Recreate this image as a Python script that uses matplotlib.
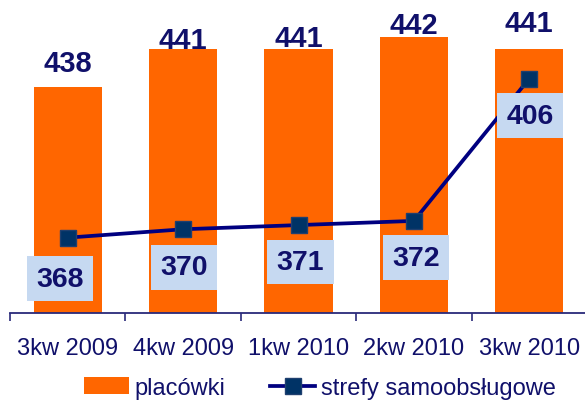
import matplotlib.pyplot as plt
import numpy as np

plt.rcParams['font.family'] = ['Liberation Sans', 'DejaVu Sans']

kwartaly = ['3kw 2009', '4kw 2009', '1kw 2010', '2kw 2010', '3kw 2010']
placowki = [438, 441, 441, 442, 441]
strefy = [368, 370, 371, 372, 406]

granat = '#10106A'
pomarancz = '#FF6600'

fig = plt.figure(figsize=(5.85, 4.02), dpi=100)
ax = fig.add_axes([10 / 585, 88 / 402, 577 / 585, 314 / 402])
ax2 = ax.twinx()

x = np.arange(len(kwartaly))
slupki = ax.bar(x, placowki, width=0.59, color=pomarancz, label='placówki', zorder=2)
linia, = ax2.plot(x, strefy, color='#000080', lw=2.7, marker='s', ms=11,
                  mfc='#003366', mec='#1F3F6F', label='strefy samoobsługowe', zorder=3)

ax.set_xlim(-0.5, 4.5)
ax.set_ylim(420, 445)
ax2.set_ylim(350, 425)

# etykiety nad slupkami (przesuniecia w pikselach jak na oryginale)
dy_slupki = [24, 9, 11, 12, 26]
for xi, v, dy in zip(x, placowki, dy_slupki):
    ax.annotate(str(v), (xi, v), xytext=(0, dy * 0.72), textcoords='offset points',
                ha='center', va='center', fontsize=21, fontweight='bold',
                color=granat, zorder=5)

# etykiety linii w niebieskich ramkach
dx_linia = [-8, 1, 2, 2, 1]
dy_linia = [41, 38, 37, 37, 37]
for xi, v, dx, dy in zip(x, strefy, dx_linia, dy_linia):
    ax2.annotate(str(v), (xi, v), xytext=(dx * 0.72, -dy * 0.72), textcoords='offset points',
                 ha='center', va='center', fontsize=20.5, fontweight='bold', color=granat,
                 bbox=dict(boxstyle='square,pad=0.33', fc='#C6D9F1', ec='none'), zorder=6)

for a in (ax, ax2):
    for s in ('top', 'left', 'right'):
        a.spines[s].set_visible(False)
    a.set_yticks([])
ax2.spines['bottom'].set_visible(False)
ax.spines['bottom'].set_color('#2A2A7A')
ax.spines['bottom'].set_linewidth(1.3)

ax.set_xticks(x)
ax.set_xticklabels(kwartaly, fontsize=17, color=granat)
ax.tick_params(axis='x', which='major', length=0, pad=17)
ax.set_xticks(np.arange(-0.5, 5, 1), minor=True)
ax.tick_params(axis='x', which='minor', length=6, width=1.2, color='#2A2A7A', direction='out')

fig.legend([slupki, linia], ['placówki', 'strefy samoobsługowe'], loc='center',
           bbox_to_anchor=(320 / 585, 13 / 402), ncol=2, frameon=False, fontsize=17,
           handlelength=1.9, handletextpad=0.25, columnspacing=1.9, labelcolor=granat)

fig.savefig('out.png', dpi=100)
